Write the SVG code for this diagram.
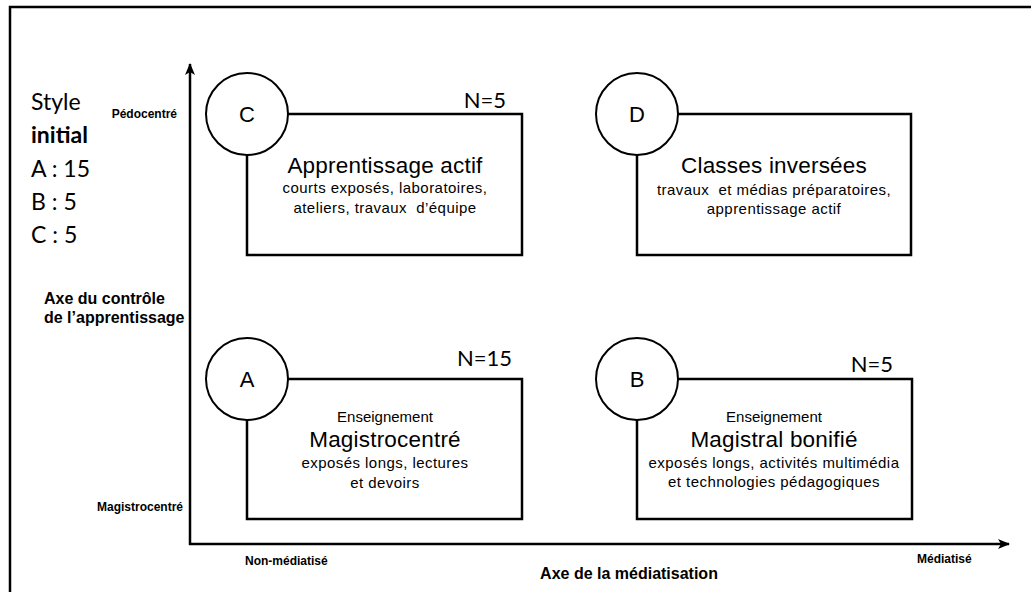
<svg xmlns="http://www.w3.org/2000/svg" width="1031" height="592" viewBox="0 0 1031 592">
  <defs>
    <marker id="arrow" viewBox="0 0 12 10" refX="11" refY="5" markerWidth="12" markerHeight="10" markerUnits="userSpaceOnUse" orient="auto">
      <path d="M0,0 L12,5 L0,10 L3,5 Z" fill="#000"/>
    </marker>
    <style>
      .frame { fill: none; stroke: #000; stroke-width: 2.5; }
      .axis { fill: none; stroke: #000; stroke-width: 2.5; marker-end: url(#arrow); }
      .box { fill: #fff; stroke: #000; stroke-width: 2.5; }
      .badge { fill: #fff; stroke: #000; stroke-width: 2; }
      .sans { font-family: "Liberation Sans", Arial, sans-serif; fill: #000; }
      .cal { font-family: Lato, "Open Sans", sans-serif; fill: #000; }
      .letter { font-size: 22px; text-anchor: middle; }
      .count { font-size: 22px; text-anchor: end; }
      .title { font-size: 22.5px; text-anchor: middle; letter-spacing: 0.2px; }
      .pre { font-size: 15px; text-anchor: middle; }
      .sub { font-size: 15px; text-anchor: middle; letter-spacing: 0.45px; }
      .tick { font-size: 12px; font-weight: bold; }
      .axlabel { font-size: 16px; font-weight: bold; }
      .legend { font-size: 23px; }
    </style>
  </defs>

  <!-- outer frame (right and bottom edges fall outside the page) -->
  <rect class="frame" x="10" y="7" width="1040" height="600"/>

  <!-- legend: initial teaching style -->
  <g id="legend" class="cal legend">
    <text x="31" y="110">Style</text>
    <text x="31" y="143" font-weight="bold">initial</text>
    <text x="31" y="177">A : 15</text>
    <text x="31" y="210">B : 5</text>
    <text x="31" y="243">C : 5</text>
  </g>

  <!-- axes -->
  <g id="connectors">
    <line class="axis" x1="190" y1="545" x2="190" y2="64"/>
    <line class="axis" x1="189" y1="544" x2="1009" y2="544"/>
  </g>

  <!-- axis labels -->
  <g id="axis-labels" class="sans">
    <text class="tick" x="177" y="118" text-anchor="end">Pédocentré</text>
    <text class="tick" x="183" y="511" text-anchor="end">Magistrocentré</text>
    <text class="tick" x="245" y="565">Non-médiatisé</text>
    <text class="tick" x="917" y="563">Médiatisé</text>
    <text class="axlabel" x="44" y="304">Axe du contrôle</text>
    <text class="axlabel" x="44" y="323">de l’apprentissage</text>
    <text class="axlabel" x="629" y="579" text-anchor="middle">Axe de la médiatisation</text>
  </g>

  <!-- C: active learning -->
  <g id="node-c" class="sans">
    <rect class="box" x="247" y="114" width="275" height="141"/>
    <circle class="badge" cx="247" cy="114" r="41"/>
    <text class="letter" x="247" y="122">C</text>
    <text class="count cal" x="506" y="108">N=5</text>
    <text class="title" x="385" y="173">Apprentissage actif</text>
    <text class="sub" x="385" y="193">courts exposés, laboratoires,</text>
    <text class="sub" x="385" y="213" xml:space="preserve">ateliers, travaux  d’équipe</text>
  </g>

  <!-- D: flipped classrooms -->
  <g id="node-d" class="sans">
    <rect class="box" x="637" y="114" width="274" height="141"/>
    <circle class="badge" cx="637" cy="114" r="41"/>
    <text class="letter" x="637" y="122">D</text>
    <text class="title" x="774" y="173">Classes inversées</text>
    <text class="sub" x="774" y="195" xml:space="preserve">travaux  et médias préparatoires,</text>
    <text class="sub" x="774" y="214">apprentissage actif</text>
  </g>

  <!-- A: teacher-centred -->
  <g id="node-a" class="sans">
    <rect class="box" x="247" y="379" width="275" height="140"/>
    <circle class="badge" cx="247" cy="379" r="41"/>
    <text class="letter" x="247" y="387">A</text>
    <text class="count cal" x="512" y="366">N=15</text>
    <text class="pre" x="385" y="422">Enseignement</text>
    <text class="title" x="385" y="447">Magistrocentré</text>
    <text class="sub" x="385" y="468">exposés longs, lectures</text>
    <text class="sub" x="385" y="488">et devoirs</text>
  </g>

  <!-- B: enhanced lecturing -->
  <g id="node-b" class="sans">
    <rect class="box" x="637" y="379" width="275" height="140"/>
    <circle class="badge" cx="637" cy="379" r="41"/>
    <text class="letter" x="637" y="387">B</text>
    <text class="count cal" x="893" y="372">N=5</text>
    <text class="pre" x="774" y="422">Enseignement</text>
    <text class="title" x="774" y="447">Magistral bonifié</text>
    <text class="sub" x="774" y="468">exposés longs, activités multimédia</text>
    <text class="sub" x="774" y="487">et technologies pédagogiques</text>
  </g>
</svg>
